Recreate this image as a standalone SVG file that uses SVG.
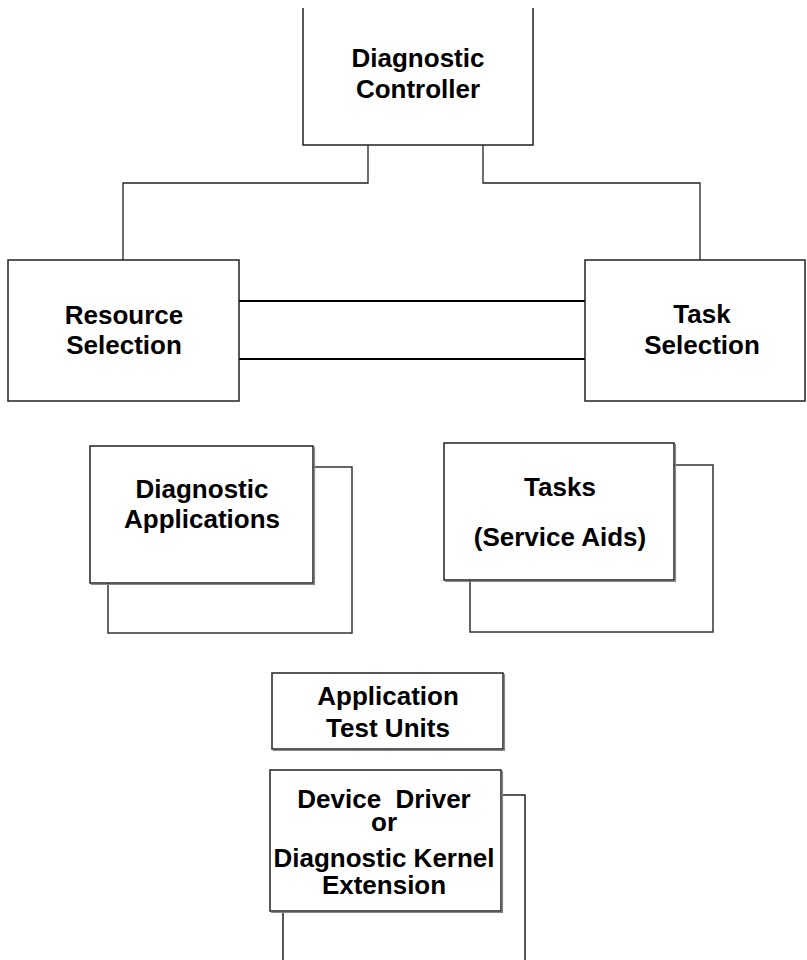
<svg xmlns="http://www.w3.org/2000/svg" width="807" height="960" viewBox="0 0 807 960">
<style>
.box{fill:#fff;stroke:#222;stroke-width:1.5}
.back{fill:#fff;stroke:#333;stroke-width:1.5}
.open{fill:none;stroke:#222;stroke-width:1.5}
.shadow{fill:none;stroke:#888;stroke-width:1.2}
.conn{fill:none;stroke:#222;stroke-width:1.3}
.bus{fill:none;stroke:#000;stroke-width:2.2}
text{font-family:"Liberation Sans",Arial,sans-serif;font-weight:bold;font-size:26px;fill:#000;text-anchor:middle;white-space:pre}
</style>
<rect width="807" height="960" fill="#fff"/>
<g id="connectors">
<path class="conn" d="M368,145 V183 H123 V260"/>
<path class="conn" d="M483,145 V183 H700 V260"/>
<path class="bus" d="M239,301 H585"/>
<path class="bus" d="M239,359 H585"/>
</g>
<g id="diagnostic-controller">
<path class="open" d="M303,8 V145 H533 V8"/>
<text x="418" y="67">Diagnostic</text>
<text x="418" y="98">Controller</text>
</g>
<g id="resource-selection">
<rect class="box" x="8" y="260" width="231" height="141"/>
<text x="124" y="324">Resource</text>
<text x="124" y="354">Selection</text>
</g>
<g id="task-selection">
<rect class="box" x="585" y="260" width="220" height="141"/>
<text x="702" y="323">Task</text>
<text x="702" y="354">Selection</text>
</g>
<g id="diagnostic-applications">
<rect class="back" x="108" y="467" width="244" height="166"/>
<rect class="box" x="90" y="446" width="223" height="137"/>
<path class="shadow" d="M91,584.5 H314.5 V447"/>
<text x="202" y="498">Diagnostic</text>
<text x="202" y="528">Applications</text>
</g>
<g id="tasks">
<rect class="back" x="470" y="465" width="243" height="167"/>
<rect class="box" x="444" y="443" width="230" height="137"/>
<path class="shadow" d="M445,581.5 H675.5 V444"/>
<text x="560" y="496">Tasks</text>
<text x="560" y="546">(Service Aids)</text>
</g>
<g id="application-test-units">
<rect class="box" x="272" y="673" width="231" height="76"/>
<path class="shadow" d="M273,750.5 H504.5 V674"/>
<text x="388" y="705">Application</text>
<text x="388" y="737">Test Units</text>
</g>
<g id="device-driver">
<path class="open" d="M283,912 V960 M502,795 H525 V960"/>
<rect class="box" x="270" y="770" width="231" height="141"/>
<path class="shadow" d="M271,912.5 H502.5 V771"/>
<text x="384" y="808">Device  Driver</text>
<text x="384" y="831">or</text>
<text x="384" y="867">Diagnostic Kernel</text>
<text x="384" y="894">Extension</text>
</g>
</svg>
